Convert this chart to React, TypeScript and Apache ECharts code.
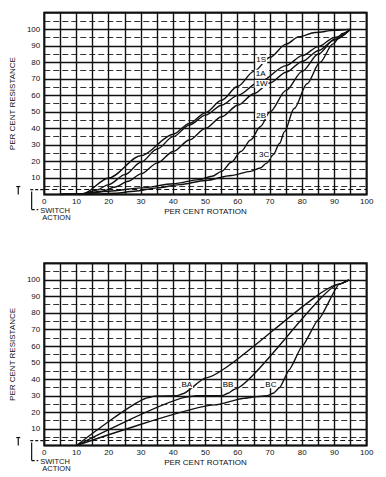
import React, { useEffect, useRef } from 'react';
import * as echarts from 'echarts';

// ---- data ----
const X_MIN = 0;
const X_MAX = 100;
const Y_MIN = 0;
const Y_MAX = 110;
const SWITCH_LEVEL = 3;

// top chart curves: [per cent rotation, per cent resistance]
const curve1S = [[5,0],[12,0.5],[20,10],[30,23.5],[40,36.5],[45,43],[50,49.5],[55,57],[60,65.5],[65,74.5],[70,83],[75,91],[79,95.5],[84,98],[90,99.3],[95,100]];
const curve1A = [[5,0],[12,0.5],[16,2.5],[20,6],[25,12],[30,19.5],[35,27.5],[40,35],[45,42],[50,48],[55,54],[60,60],[67,68.5],[75,78],[80,84],[85,89.5],[90,95],[95,100]];
const curve1W = [[5,0],[12,0.5],[18,2],[22,4.5],[26,8],[30,12.5],[35,19],[40,26],[45,33],[50,40],[55,47],[60,54],[65,61],[70,67.5],[75,74],[80,80.5],[85,87],[90,93.5],[95,100]];
const curve2B = [[5,0],[12,0.5],[20,2],[30,4],[40,6.5],[48,9],[52,11],[55,14],[58,19.5],[61,26],[64,33],[67,41],[70,50],[75,63],[80,74.5],[85,85],[90,94],[95,100]];
const curve3C = [[5,0],[15,0.3],[22,0.8],[28,2],[35,4],[42,6],[50,8.5],[58,11.5],[64,14],[67,16],[69,19],[71,24],[73,31],[74.5,38],[77.5,52],[81.5,67],[85.5,80],[89.5,91],[92.5,97.5],[95,100]];

// bottom chart curves
const curveBA = [[10,0],[32.5,29],[34,29.8],[41,30],[43,31.2],[50,40.8],[91.5,97.4],[94.5,100]];
const curveBB = [[10,0],[45,29.5],[47,30],[55,30],[57,31.5],[59,34],[91.5,97.4],[94.5,100]];
const curveBC = [[10,0],[53,24.5],[62,28.5],[66,29.5],[69,30],[71,31.5],[73,35],[76,45.8],[80,60],[85,76],[91.5,97.4],[94.5,100]];

// curve labels: [name, x, y] in data units
const topLabels: [string, number, number][] = [
  ['1S', 67.3, 81.4],
  ['1A', 67.1, 73.1],
  ['1W', 67.4, 66.9],
  ['2B', 67.3, 48.1],
  ['3C', 68.2, 24.2],
];
const bottomLabels: [string, number, number][] = [
  ['BA', 44.2, 37],
  ['BB', 57, 37],
  ['BC', 70.3, 37],
];

const X_TITLE = 'PER CENT ROTATION';
const Y_TITLE = 'PER CENT RESISTANCE';
const SWITCH_TEXT = ['SWITCH', 'ACTION'];

const FONT = 'Liberation Sans, Arial, sans-serif';
const INK = '#111';

function curveSeries(data: number[][], g: number, smooth: number | boolean) {
  return {
    type: 'line',
    xAxisIndex: g,
    yAxisIndex: g,
    data,
    symbol: 'none',
    smooth,
    smoothMonotone: 'x',
    silent: true,
    lineStyle: { color: INK, width: 1.4 },
    z: 5,
  };
}

function xAxis(g: number) {
  return {
    type: 'value',
    gridIndex: g,
    min: X_MIN,
    max: X_MAX,
    interval: 5,
    name: X_TITLE,
    nameLocation: 'middle',
    nameGap: 13,
    nameTextStyle: { fontFamily: FONT, fontSize: 8, color: INK },
    axisLine: { show: false },
    axisTick: { show: false },
    axisLabel: {
      fontFamily: FONT,
      fontSize: 8,
      color: INK,
      margin: 3,
      formatter: (v: number) => (v % 10 === 0 ? String(v) : ''),
    },
    splitLine: { show: true, lineStyle: { color: INK, width: 1.4 } },
  };
}

function yAxis(g: number) {
  return {
    type: 'value',
    gridIndex: g,
    min: Y_MIN,
    max: Y_MAX,
    interval: 10,
    name: Y_TITLE,
    nameLocation: 'middle',
    nameRotate: 90,
    nameGap: 17,
    nameTextStyle: { fontFamily: FONT, fontSize: 8, color: INK },
    axisLine: { show: false },
    axisTick: { show: false },
    minorTick: { show: false, splitNumber: 2 },
    minorSplitLine: { show: true, lineStyle: { color: '#333', width: 1.1, type: [6, 3] } },
    axisLabel: {
      fontFamily: FONT,
      fontSize: 8,
      color: INK,
      margin: 4,
      formatter: (v: number) => (v > 0 && v <= 100 ? String(v) : ''),
    },
    splitLine: { show: true, lineStyle: { color: INK, width: 1.3 } },
  };
}

const switchLine = {
  symbol: 'none',
  silent: true,
  label: { show: false },
  lineStyle: { type: [5, 3], color: INK, width: 1 },
  data: [{ yAxis: SWITCH_LEVEL }],
};

export default function App() {
  const ref = useRef<HTMLDivElement>(null);

  useEffect(() => {
    if (!ref.current) return;
    const chart = echarts.init(ref.current, null, { renderer: 'svg' });
    const option: any = {
      animation: false,
      backgroundColor: '#fff',
      grid: [
        { left: 33.3, top: 12.7, width: 333.4, height: 181.8, show: true, borderColor: INK, borderWidth: 2, backgroundColor: 'transparent' },
        { left: 33.3, top: 263.3, width: 333.4, height: 182.2, show: true, borderColor: INK, borderWidth: 2, backgroundColor: 'transparent' },
      ],
      xAxis: [xAxis(0), xAxis(1)],
      yAxis: [yAxis(0), yAxis(1)],
      series: [
        { ...curveSeries(curve1S, 0, 0.3), markLine: switchLine },
        curveSeries(curve1A, 0, 0.3),
        curveSeries(curve1W, 0, 0.3),
        curveSeries(curve2B, 0, 0.3),
        curveSeries(curve3C, 0, 0.3),
        { ...curveSeries(curveBA, 1, 0.15), markLine: switchLine },
        curveSeries(curveBB, 1, 0.15),
        curveSeries(curveBC, 1, 0.15),
      ],
    };
    chart.setOption(option);

    const gfx: any[] = [];
    [topLabels, bottomLabels].forEach((labels, g) => {
      labels.forEach(([name, x, y]) => {
        const p = chart.convertToPixel({ gridIndex: g } as any, [x, y]) as number[];
        gfx.push({
          type: 'text', x: p[0], y: p[1], z: 20,
          style: {
            text: name, font: `8px ${FONT}`, fill: '#000',
            align: 'center', verticalAlign: 'middle',
            backgroundColor: '#fff', padding: [0, 1],
          },
        });
      });
    });
    [0, 1].forEach((g) => {
      const p = chart.convertToPixel({ gridIndex: g } as any, [X_MIN, SWITCH_LEVEL]) as number[];
      const x0 = p[0];
      const ys = p[1];
      const ls = { stroke: INK, lineWidth: 1.2 };
      // T marker
      gfx.push({ type: 'line', shape: { x1: x0 - 28, y1: ys - 3, x2: x0 - 24, y2: ys - 3 }, style: ls });
      gfx.push({ type: 'line', shape: { x1: x0 - 26, y1: ys - 3, x2: x0 - 26, y2: ys + 5 }, style: ls });
      // dashed stub to the axis
      gfx.push({ type: 'line', shape: { x1: x0 - 14, y1: ys, x2: x0, y2: ys }, style: { ...ls, lineDash: [3, 2] } });
      // L bracket
      gfx.push({ type: 'line', shape: { x1: x0 - 12.6, y1: ys + 2, x2: x0 - 12.6, y2: ys + 20 }, style: ls });
      gfx.push({ type: 'line', shape: { x1: x0 - 12.6, y1: ys + 20, x2: x0 - 6, y2: ys + 20 }, style: { ...ls, lineDash: [3, 2] } });
      gfx.push({
        type: 'text', x: x0 - 4, y: ys + 20.5,
        style: { text: SWITCH_TEXT[0], font: `7.5px ${FONT}`, fill: INK, verticalAlign: 'middle' },
      });
      gfx.push({
        type: 'text', x: x0 - 2, y: ys + 28,
        style: { text: SWITCH_TEXT[1], font: `7.5px ${FONT}`, fill: INK, verticalAlign: 'middle' },
      });
    });
    chart.setOption({ graphic: gfx });

    return () => chart.dispose();
  }, []);

  return (
    <div
      ref={ref}
      style={{ position: 'absolute', left: 0, top: 0, width: 386, height: 477, background: '#fff' }}
    />
  );
}
